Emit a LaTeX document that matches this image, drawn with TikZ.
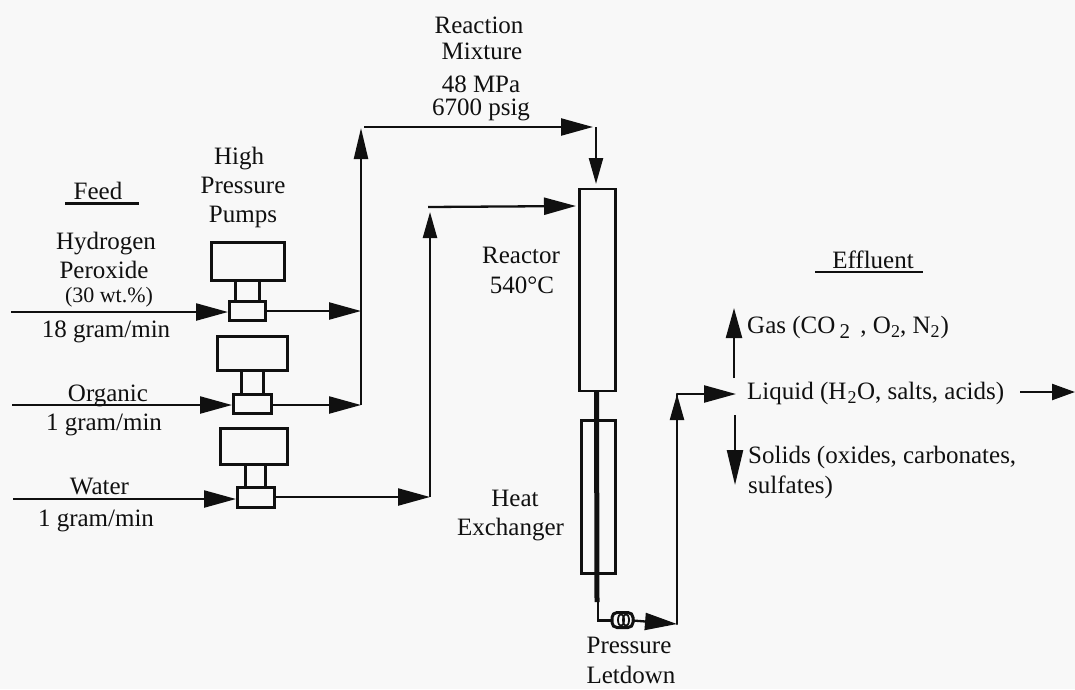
\documentclass[tikz,border=0pt]{standalone}
\usepackage{fontspec}
\setmainfont{Liberation Serif}
\usetikzlibrary{arrows.meta}
\definecolor{ink}{HTML}{101010}
\definecolor{paper}{HTML}{F8F8F8}
\newcommand{\subtwo}{\raisebox{-4pt}{\fontsize{18}{18}\selectfont 2}}
\tikzset{
 x=1pt,y=-1pt,
 box/.style={draw=ink,line width=2.6pt,fill=paper,inner sep=0pt,anchor=north west},
 plain/.style={draw=ink,line width=2.3pt},
 flow/.style={plain,-{Triangle[length=32pt,width=17pt]}},
 flowb/.style={plain,-{Triangle[length=26pt,width=14pt]}},
 lbl/.style={font=\fontsize{25}{29}\selectfont,text=ink,inner sep=0pt,anchor=base},
 lbll/.style={lbl,anchor=base west},
 small/.style={lbl,font=\fontsize{22}{26}\selectfont},
}
\begin{document}
\begin{tikzpicture}
\path[use as bounding box,fill=paper] (0,0) rectangle (1075,689);
% pumps
\foreach \n/\xa/\ya/\xb/\yb in {pa/210/241/283/279,pb/216/335/286/369,pc/219/427/286/463,
  na/234/279/258/300,nb/240/369/262/393,nc/244/463/264/486,
  sa/228/300/264/319,sb/232/393/270/412,sc/236/486/273/506}{
  \pgfmathsetmacro{\w}{\xb-\xa}\pgfmathsetmacro{\h}{\yb-\ya}
  \node[box,minimum width=\w pt,minimum height=\h pt] (\n) at (\xa,\ya) {};
}
% vessels
\node[box,minimum width=36pt,minimum height=202pt] (reactor) at (578,187.5) {};
\node[box,minimum width=34pt,minimum height=153pt] (hx) at (580,419) {};
\draw[draw=ink,line width=5pt] (reactor.south -| 596.5,0) -- (597,602);
% named junctions
\coordinate (inA) at (11,312);
\coordinate (inB) at (12,405);
\coordinate (inC) at (13,499);
\coordinate (j1) at (361,311);
\coordinate (j2) at (361,405);
\coordinate (j3) at (430,497);
\coordinate (t0) at (361,128);
\coordinate (t1) at (364,127);
\coordinate (t2) at (596,127);
\coordinate (m0) at (430,212);
\coordinate (m1) at (428,207);
\coordinate (m2) at (576,206);
\coordinate (r1) at (596,184);
\coordinate (d1) at (598,600);
\coordinate (d2) at (598,620.5);
\coordinate (c1) at (633,620.5);
\coordinate (e1) at (677,624);
\coordinate (e2) at (677,394);
\coordinate (e3) at (736,394);
\coordinate (g1) at (734,378);
\coordinate (g2) at (734,308);
\coordinate (s1) at (735,415);
\coordinate (s2) at (735,485);
\coordinate (o1) at (1020,392);
\coordinate (o2) at (1075,392);
% flows
\draw[flow] (inA) -- (sa.west |- inA);
\draw[flow] (inB) -- (sb.west |- inB);
\draw[flow] (inC) -- (sc.west |- inC);
\draw[flow] (sa.east |- j1) -- (j1);
\draw[flow] (sb.east |- j2) -- (j2);
\draw[flow] (sc.east |- j3) -- (j3);
\draw[plain,-{Triangle[length=31pt,width=14pt]}] (j2) -- (t0);
\draw[flow] (t1) -- (593,127);
\draw[flowb] (t2) -- (r1);
\draw[flowb] (j3) -- (m0);
\draw[flow] (m1) -- (m2);
\draw[plain] (d1) -- (d2) -- (c1);
\draw[flow] (c1) -- (e1);
\draw[plain,line cap=round] (e1) -- (e2);
\draw[flowb] (e1) -- (e2);
\draw[flow] (e2) -- (e3);
\draw[plain,-{Triangle[length=30pt,width=16pt]}] (g1) -- (g2);
\draw[plain,-{Triangle[length=35pt,width=16pt]}] (s1) -- (s2);
\draw[plain,-{Triangle[length=23pt,width=16pt]}] (o1) -- (o2);
% pressure letdown valve
\node[draw=ink,line width=3pt,fill=paper,rounded corners=5pt,minimum width=21pt,minimum height=15pt,inner sep=0pt] (valve) at (622.5,620) {};
\draw[draw=ink,line width=1.8pt] (621,620) ellipse (3pt and 6pt);
\draw[draw=ink,line width=1.8pt] (626,620) ellipse (3pt and 6pt);
% labels
\node[lbl] (l1) at (479,33) {Reaction};
\node[lbl] (l2) at (482,59) {Mixture};
\node[lbl] (l3) at (481,92) {48 MPa};
\node[lbl] (l4) at (481,115) {6700 psig};
\node[lbl] (l5) at (239,164) {High};
\node[lbl] (l6) at (243,193) {Pressure};
\node[lbl] (l7) at (243,222) {Pumps};
\node[lbl] (l8) at (98,199) {Feed};
\draw[plain] (65,203.5) -- (138.5,203.5);
\node[lbl] (l9) at (106,249) {Hydrogen};
\node[lbl] (l10) at (104,278) {Peroxide};
\node[small] (l11) at (109,302) {(30 wt.\%)};
\node[lbl] (l12) at (106,337) {18 gram/min};
\node[lbl] (l13) at (108,401) {Organic};
\node[lbl] (l14) at (104,430) {1 gram/min};
\node[lbl] (l15) at (99.5,494) {Water};
\node[lbl] (l16) at (96,526) {1 gram/min};
\node[lbl] (l17) at (521,263) {Reactor};
\node[lbl] (l18) at (522,293) {540°C};
\node[lbl] (l19) at (515,506) {Heat};
\node[lbl] (l20) at (510.5,535.5) {Exchanger};
\node[lbl] (l21) at (629,653) {Pressure};
\node[lbl] (l22) at (631,683) {Letdown};
\node[lbl] (l23) at (873,268) {Effluent};
\draw[plain] (815,272) -- (923,272);
\node[lbll] (l24) at (747,333) {Gas (CO\,\raisebox{-5pt}{\fontsize{21}{21}\selectfont 2}\, , O\subtwo, N\subtwo\kern1pt)};
\node[lbll] (l25) at (747,399) {Liquid (H\kern1pt\subtwo\kern0.5pt O, salts, acids)};
\node[lbll] (l26) at (748,463) {Solids (oxides, carbonates,};
\node[lbll] (l27) at (748,493) {sulfates)};
\end{tikzpicture}
\end{document}
